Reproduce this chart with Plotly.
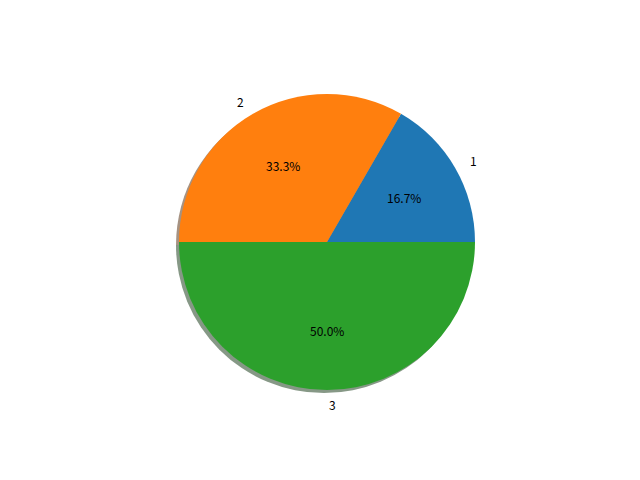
import math
import plotly.graph_objects as go

labels = ["1", "2", "3"]
values = [1, 2, 3]
colors = ["#1f77b4", "#ff7f0e", "#2ca02c"]
shadow_colors = ["#849299", "#a69282", "#869886"]

W, H = 640, 480
off = 8  # page body margin
cx, cy, R = 327 - off, 242 - off, 148  # pixel centre and radius
sh = 3  # shadow offset px

total = sum(values)
rot = 90 - 360 * values[0] / total

def dom(dx, dy):
    return dict(x=[(cx + dx - R) / W, (cx + dx + R) / W],
                y=[(H - cy - dy - R) / H, (H - cy - dy + R) / H])

fig = go.Figure()
fig.add_trace(go.Pie(labels=labels, values=values, sort=False, direction="counterclockwise",
                     rotation=rot, marker=dict(colors=shadow_colors, line=dict(width=0)),
                     textinfo="none", hoverinfo="skip", domain=dom(-sh, sh), showlegend=False))
fig.add_trace(go.Pie(labels=labels, values=values, sort=False, direction="counterclockwise",
                     rotation=rot, marker=dict(colors=colors, line=dict(width=0)),
                     textinfo="none", domain=dom(0, 0), showlegend=False))

font = dict(family="Noto Sans CJK SC, DejaVu Sans", size=12, color="black")
cum = 0
for lab, v in zip(labels, values):
    a = 2 * math.pi * (cum + v / 2) / total
    cum += v
    c, s = math.cos(a), math.sin(a)
    px, py = cx + 0.6 * R * c, cy - 0.6 * R * s
    fig.add_annotation(x=px / W, y=1 - py / H, xref="paper", yref="paper",
                       text=f"{100 * v / total:.1f}%", showarrow=False, font=font,
                       xanchor="center", yanchor="middle")
    lx, ly = cx + 1.1 * R * c, cy - 1.1 * R * s
    fig.add_annotation(x=lx / W, y=1 - ly / H, xref="paper", yref="paper",
                       text=lab, showarrow=False, font=font,
                       xanchor="left" if c > -1e-9 else "right", yanchor="middle")

fig.update_layout(width=W, height=H, margin=dict(l=0, r=0, t=0, b=0),
                  paper_bgcolor="white", plot_bgcolor="white")
fig.write_html("out.html")
